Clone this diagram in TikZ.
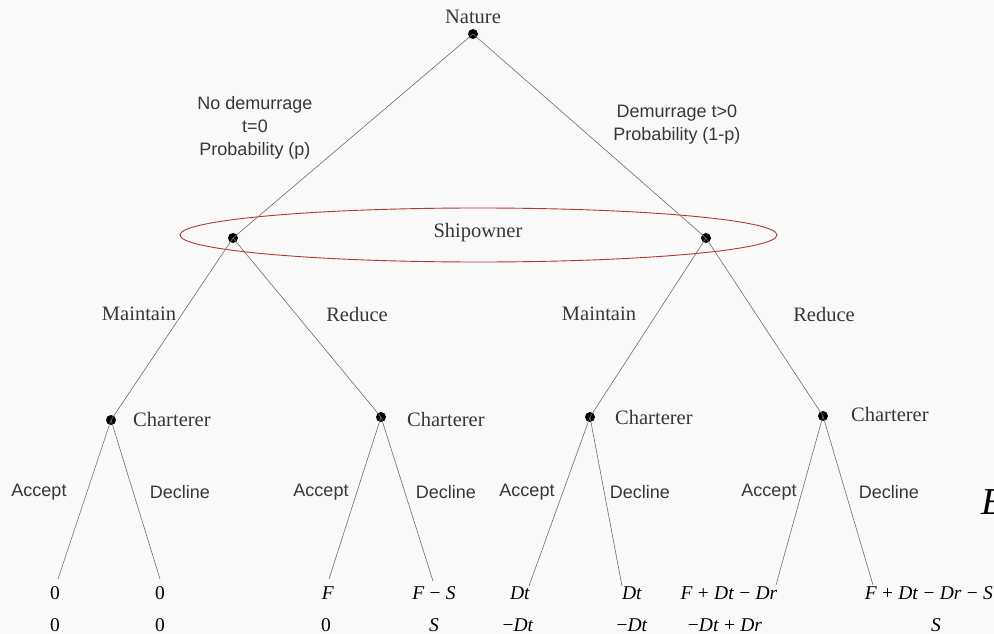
\documentclass[tikz,border=0pt]{standalone}
\usepackage{fontspec}
\setmainfont{Liberation Serif}
\newfontfamily\sansf{Liberation Sans}
\definecolor{bgc}{RGB}{249,249,249}
\definecolor{txt}{RGB}{55,55,55}
\definecolor{edge}{RGB}{110,110,110}
\definecolor{setc}{RGB}{175,55,55}
\tikzset{
  dotnode/.style={circle,fill=black,inner sep=0pt,minimum size=10pt},
  branch/.style={draw=edge,line width=0.6pt},
  player/.style={text=txt,font=\fontsize{20.5}{24}\selectfont,inner sep=0pt},
  action/.style={text=txt,font=\fontsize{20.5}{24}\selectfont,inner sep=0pt},
  chance/.style={text=txt,font=\sansf\fontsize{18}{23}\selectfont,align=center,inner sep=0pt},
  choice/.style={text=txt,font=\sansf\fontsize{18}{22}\selectfont,inner sep=0pt},
  payoff/.style={text=black,font=\fontsize{19.5}{22}\selectfont,inner sep=0pt}
}
\newcommand{\iv}[1]{\textit{#1}}
\newcommand{\mop}[1]{\hspace{0.27em}#1\hspace{0.27em}}
\begin{document}
\begin{tikzpicture}[x=1pt,y=-1pt]
\useasboundingbox (0,0) rectangle (994,634);
\fill[bgc] (0,0) rectangle (994,634);

% information set
\draw[setc,line width=0.9pt] (478.5,235) ellipse [x radius=298.5, y radius=27];
\node[player] (ship) at (478,233) {Shipowner};

% decision nodes
\node[dotnode] (nat) at (473,34) {};
\node[player] (natl) at (473,17) {Nature};
\node[dotnode] (sL) at (233,238) {};
\node[dotnode] (sR) at (706,238) {};
\node[dotnode] (c1) at (111,420) {};
\node[dotnode] (c2) at (381,417) {};
\node[dotnode] (c3) at (590,417) {};
\node[dotnode] (c4) at (823,416) {};

% leaf ends
\coordinate (l1) at (58,579);
\coordinate (l2) at (160,579);
\coordinate (l3) at (329,579);
\coordinate (l4) at (433,581);
\coordinate (l5) at (529,586);
\coordinate (l6) at (622,586);
\coordinate (l7) at (776,585);
\coordinate (l8) at (873,585);

% branches
\draw[branch] (nat.center) -- (sL.center);
\draw[branch] (nat.center) -- (sR.center);
\draw[branch] (sL.center) -- (c1.center);
\draw[branch] (sL.center) -- (c2.center);
\draw[branch] (sR.center) -- (c3.center);
\draw[branch] (sR.center) -- (c4.center);
\draw[branch] (c1.center) -- (l1);
\draw[branch] (c1.center) -- (l2);
\draw[branch] (c2.center) -- (l3);
\draw[branch] (c2.center) -- (l4);
\draw[branch] (c3.center) -- (l5);
\draw[branch] (c3.center) -- (l6);
\draw[branch] (c4.center) -- (l7);
\draw[branch] (c4.center) -- (l8);

% chance labels
\node[chance] (nd) at (255,128) {No demurrage\\t=0\\Probability (p)};
\node[chance] (dm) at (677,125) {Demurrage t>0\\Probability (1-p)};

% shipowner actions
\node[action] (m1) at (139,314) {Maintain};
\node[action] (r1) at (357,314) {Reduce};
\node[action] (m2) at (599,314) {Maintain};
\node[action] (r2) at (824,314) {Reduce};

% charterer labels
\node[player,anchor=west] (ch1) at (133,419) {Charterer};
\node[player,anchor=west] (ch2) at (407,419) {Charterer};
\node[player,anchor=west] (ch3) at (615,417) {Charterer};
\node[player,anchor=west] (ch4) at (851,414) {Charterer};

% charterer choices
\node[choice] (a1) at (39,492) {Accept};
\node[choice] (d1) at (180,492) {Decline};
\node[choice] (a2) at (321,492) {Accept};
\node[choice] (d2) at (446,492) {Decline};
\node[choice] (a3) at (527,492) {Accept};
\node[choice] (d3) at (640,492) {Decline};
\node[choice] (a4) at (769,492) {Accept};
\node[choice] (d4) at (889,492) {Decline};

% payoffs row 1
\node[payoff] (p11) at (55,593) {0};
\node[payoff] (p12) at (160,593) {0};
\node[payoff] (p13) at (328,593) {\iv{F}};
\node[payoff] (p14) at (434,593) {\iv{F}\mop{−}\iv{S}};
\node[payoff] (p15) at (520,593) {\iv{Dt}};
\node[payoff] (p16) at (632,593) {\iv{Dt}};
\node[payoff] (p17) at (729,593) {\iv{F}\mop{+}\iv{Dt}\mop{−}\iv{Dr}};
\node[payoff,anchor=east] (p18) at (993,593) {\iv{F}\mop{+}\iv{Dt}\mop{−}\iv{Dr}\mop{−}\iv{S}};
% payoffs row 2
\node[payoff] (p21) at (55,625) {0};
\node[payoff] (p22) at (160,625) {0};
\node[payoff] (p23) at (326,625) {0};
\node[payoff] (p24) at (434,625) {\iv{S}};
\node[payoff] (p25) at (518,625) {−\iv{Dt}};
\node[payoff] (p26) at (632,625) {−\iv{Dt}};
\node[payoff] (p27) at (725,625) {−\iv{Dt}\mop{+}\iv{Dr}};
\node[payoff] (p28) at (936,625) {\iv{S}};

% cut-off letter at right edge
\node[text=black,font=\fontsize{38}{40}\selectfont\itshape,anchor=west,inner sep=0pt] (ecut) at (981,502) {E};
\end{tikzpicture}
\end{document}
